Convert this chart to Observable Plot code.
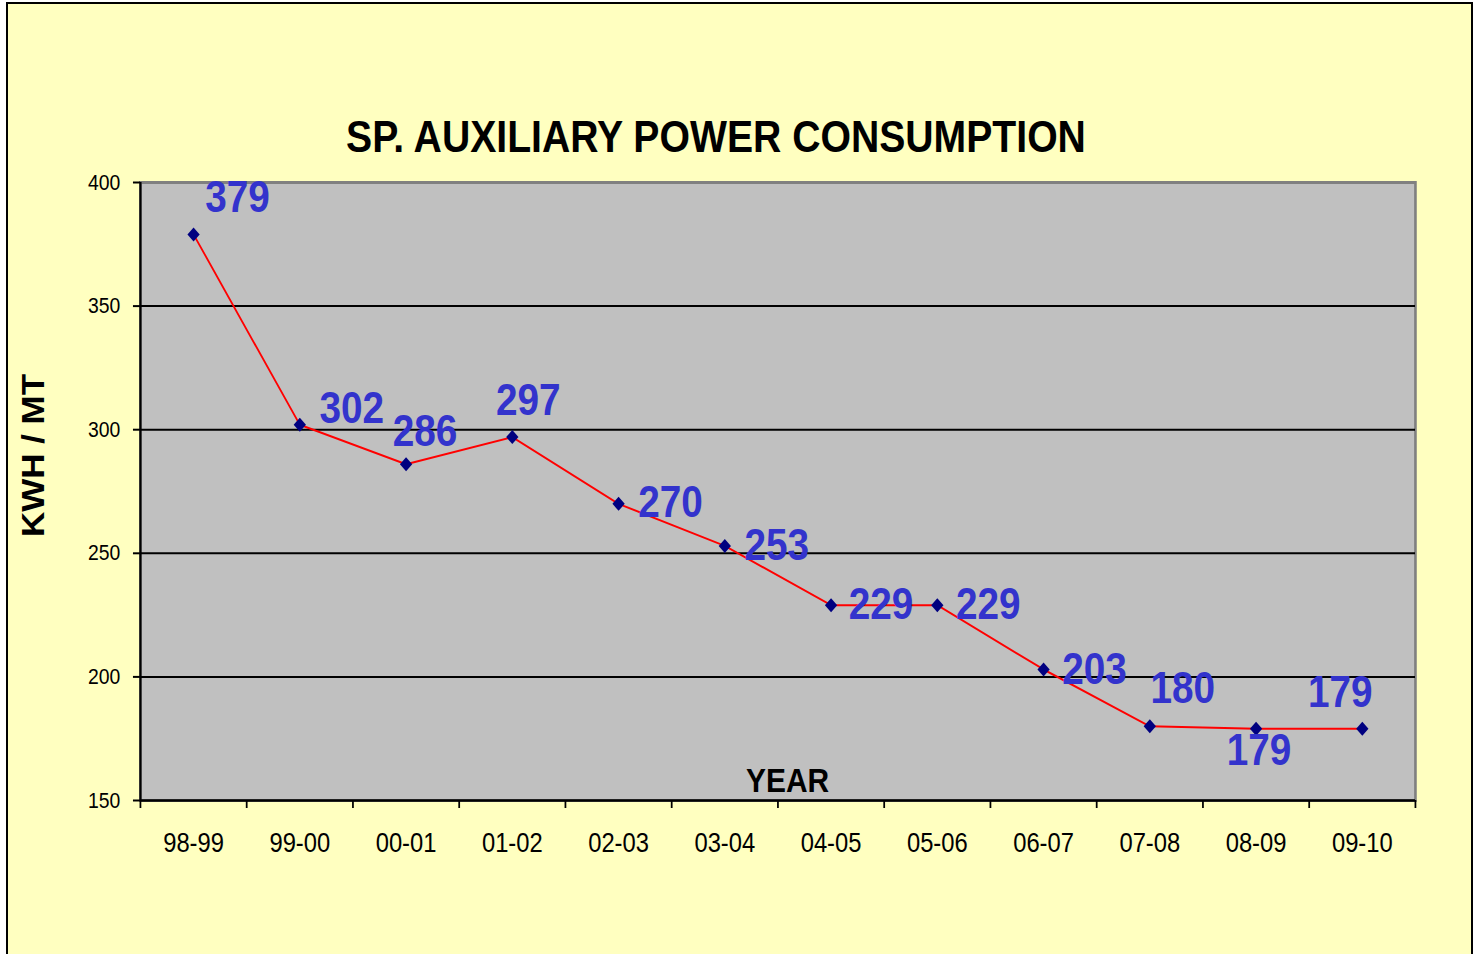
<!DOCTYPE html>
<html>
<head>
<meta charset="utf-8">
<script src="https://cdn.jsdelivr.net/npm/d3@7"></script>
<script src="https://cdn.jsdelivr.net/npm/@observablehq/plot@0.6"></script>
<style>
  html, body { margin: 0; padding: 0; background: #ffffff; overflow: hidden; width: 1473px; height: 954px; }
  body { position: relative; font-family: "Liberation Sans", Arial, sans-serif; }
  #card { position: absolute; left: 6px; top: 2px; width: 1467px; height: 1000px; box-sizing: border-box;
          border: 2.5px solid #000; background: #FFFFC0; }
  #title { position: absolute; left: 0; top: 115px; width: 1432px; text-align: center;
           font: bold 44.5px/44px "Liberation Sans", Arial, sans-serif; color: #000;
           transform: scaleX(0.88); transform-origin: 716px 0; white-space: nowrap; }
  #chart { position: absolute; left: 0; top: 170px; width: 1674px; height: 784px; transform: scaleX(0.88); transform-origin: 0 0; }
  #chart svg { max-width: none !important; width: 1674px !important; height: 784px !important; }
</style>
</head>
<body>
<div id="card"></div>
<div id="title">SP. AUXILIARY POWER CONSUMPTION</div>
<div id="chart"></div>
<script>
// ---- data ----
const years = ["98-99","99-00","00-01","01-02","02-03","03-04","04-05","05-06","06-07","07-08","08-09","09-10"];
const consumption = [379, 302, 286, 297, 270, 253, 229, 229, 203, 180, 179, 179];
const yTicks = [150, 200, 250, 300, 350, 400];
const gridValues = [200, 250, 300, 350];
const yAxisTitle = "KWH / MT";
const xAxisTitle = "YEAR";

// ---- label placement (page pixels, relative to each point) ----
const labelOffsets = [[44,-36],[52,-16],[19,-32],[16,-36],[52,-1],[52,0],[50,0],[51,0],[51,0],[33,-37],[3,22],[-22,-36]];

const S = 0.88; // horizontal squeeze of the original picture
const W = 1674;
const H = 784;
const mL = 140 / S, mR = W - 1415 / S, mT = 12, mB = 154;
const idx = d3.range(years.length);

const labelMarks = idx.map(i => Plot.text([i], {
  x: d => d, y: d => consumption[d], text: d => String(consumption[d]),
  dx: labelOffsets[i][0] / S, dy: labelOffsets[i][1],
  fill: "#3333CC", fontSize: 44, fontWeight: "bold", textAnchor: "middle", lineAnchor: "middle"
}));

const chart = Plot.plot({
  width: W, height: H,
  marginLeft: mL, marginRight: mR, marginTop: mT, marginBottom: mB,
  style: { background: "transparent", color: "#000", fontFamily: "'Liberation Sans', Arial, sans-serif", overflow: "visible", maxWidth: "none" },
  x: { type: "linear", domain: [-0.5, years.length - 0.5] },
  y: { domain: [150, 400] },
  marks: [
    Plot.frame({ fill: "#C0C0C0", stroke: "#808080", strokeWidth: 3 }),
    Plot.ruleY(gridValues, { stroke: "#000", strokeWidth: 2 }),
    Plot.ruleX([-0.5], { stroke: "#000", strokeWidth: 2.5 }),
    Plot.ruleY([150], { stroke: "#000", strokeWidth: 2.5 }),
    Plot.axisY(yTicks, { tickSize: 8, tickPadding: 15, fontSize: 22, strokeWidth: 2, label: null }),
    Plot.axisX(d3.range(-0.5, years.length, 1), { tickSize: 8, tickFormat: () => "", strokeWidth: 2, label: null }),
    Plot.axisX(idx, { tickSize: 0, tickPadding: 32, tickFormat: i => years[i], fontSize: 27, label: null }),
    Plot.line(consumption, { x: (d, i) => i, y: d => d, stroke: "#FF0000", strokeWidth: 2 }),
    Plot.dot(consumption, { x: (d, i) => i, y: d => d, symbol: "diamond2", r: 6.3, fill: "#000080", stroke: "none" }),
    ...labelMarks,
    Plot.text([xAxisTitle], { frameAnchor: "bottom", text: d => d, dx: 11, dy: -19.5, lineAnchor: "middle",
      fontSize: 34, fontWeight: "bold", fill: "#000" }),
    Plot.text([yAxisTitle], { frameAnchor: "left", text: d => d, rotate: -90, dx: -120.5, dy: -36,
      textAnchor: "middle", lineAnchor: "middle", fontSize: 35, fontWeight: "bold", fill: "#000" })
  ]
});
document.getElementById("chart").appendChild(chart);
</script>
</body>
</html>
